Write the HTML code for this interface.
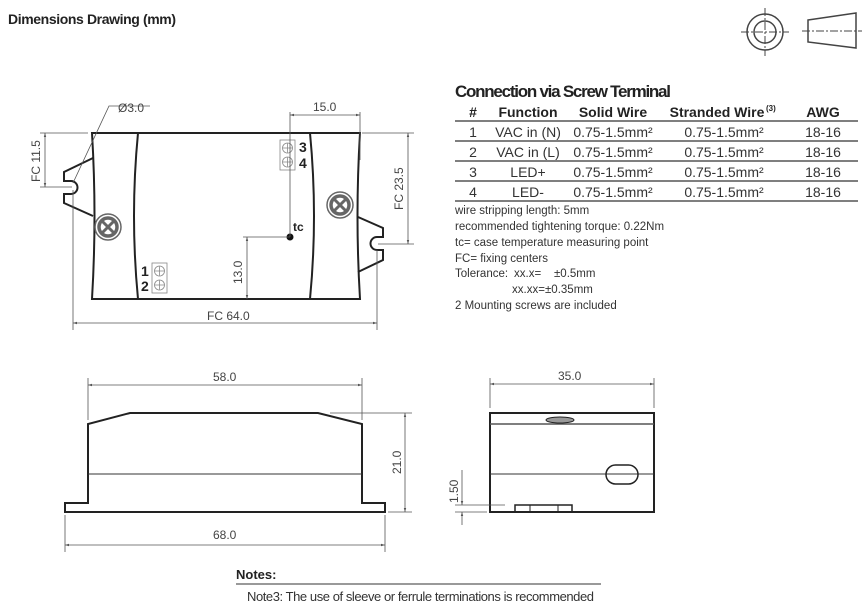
<!DOCTYPE html>
<html><head><meta charset="utf-8"><style>
html,body{margin:0;padding:0;background:#fff;}
svg{display:block;font-family:"Liberation Sans Narrow","Liberation Sans",sans-serif;}
.o{fill:none;stroke:#222;stroke-width:2}
.t{fill:none;stroke:#444;stroke-width:1}
.d{fill:none;stroke:#555;stroke-width:0.8}
.dim{font-size:12px;fill:#444}
</style></head><body>
<svg width="867" height="612" viewBox="0 0 867 612" xmlns="http://www.w3.org/2000/svg">
<defs>
<marker id="a" viewBox="0 0 10 10" refX="10" refY="5" markerWidth="5" markerHeight="5" orient="auto-start-reverse"><path d="M0,2 L10,5 L0,8z" fill="#555"/></marker>
</defs>
<text x="8" y="24" font-size="14" font-weight="bold" fill="#222" textLength="168">Dimensions Drawing (mm)</text>

<!-- icons -->
<g class="t" stroke="#222">
<circle cx="765" cy="32" r="18" stroke-width="1.5"/><circle cx="765" cy="32" r="11" stroke-width="1.5"/>
<line x1="741" y1="32" x2="789" y2="32" stroke-dasharray="8,2,2,2"/>
<line x1="765" y1="8" x2="765" y2="56" stroke-dasharray="8,2,2,2"/>
<path d="M808,20 L856,13 L856,48 L808,42 Z" stroke-width="1.5"/>
<line x1="802" y1="31" x2="862" y2="31" stroke-dasharray="8,2,2,2"/>
</g>

<!-- TOP VIEW -->
<path class="o" d="M92,133 L360,133 Q355,216 360,299 L92,299 Q97,216 92,133 Z"/>
<path class="o" d="M138,133 Q130,216 138,299"/>
<path class="o" d="M310,133 Q318,216 310,299"/>
<path class="o" d="M93,158 L64,172 L64,181 L71,181 A6,6 0 0 1 71,194 L64,194 L64,203 L93,216"/>
<path class="o" d="M358,217 L383,228 L383,237 L377,237 A6,6 0 0 0 377,250 L383,250 L383,260 L358,272"/>
<g stroke="#666" fill="none"><circle cx="108" cy="227" r="13" stroke-width="1.5"/><circle cx="108" cy="227" r="9" stroke-width="3.5"/>
<path d="M102,221 L114,233 M114,221 L102,233" stroke-width="3"/>
<circle cx="340" cy="205" r="13" stroke-width="1.5"/><circle cx="340" cy="205" r="9" stroke-width="3.5"/>
<path d="M334,199 L346,211 M346,199 L334,211" stroke-width="3"/></g>
<g stroke="#888" fill="none" stroke-width="0.8">
<rect x="280" y="140" width="15" height="30"/><circle cx="287.5" cy="148" r="5"/><circle cx="287.5" cy="162" r="5"/>
<path d="M283,148h9M287.5,143.5v9M283,162h9M287.5,157.5v9"/>
<rect x="152" y="263" width="15" height="30"/><circle cx="159.5" cy="271" r="5"/><circle cx="159.5" cy="285" r="5"/>
<path d="M155,271h9M159.5,266.5v9M155,285h9M159.5,280.5v9"/></g>
<g font-size="14" font-weight="bold" fill="#222"><text x="299" y="152">3</text><text x="299" y="168">4</text>
<text x="141" y="276">1</text><text x="141" y="291">2</text></g>
<circle cx="290" cy="237" r="3.5" fill="#111"/>
<text x="293" y="231" font-size="12" font-weight="bold" fill="#222">tc</text>
<g class="d">
<line x1="290" y1="237" x2="290" y2="112"/><line x1="360" y1="112" x2="360" y2="160"/>
<line x1="290" y1="115" x2="360" y2="115" marker-start="url(#a)" marker-end="url(#a)"/>
<line x1="243" y1="237" x2="290" y2="237"/>
<line x1="247" y1="237" x2="247" y2="299" marker-start="url(#a)" marker-end="url(#a)"/>
<line x1="40" y1="133" x2="88" y2="133"/><line x1="40" y1="187" x2="72" y2="187"/>
<line x1="45" y1="133" x2="45" y2="187" marker-start="url(#a)" marker-end="url(#a)"/>
<line x1="362" y1="133" x2="414" y2="133"/><line x1="378" y1="244" x2="414" y2="244"/>
<line x1="408" y1="133" x2="408" y2="244" marker-start="url(#a)" marker-end="url(#a)"/>
<line x1="73" y1="190" x2="73" y2="330"/><line x1="377" y1="250" x2="377" y2="330"/>
<line x1="73" y1="323" x2="377" y2="323" marker-start="url(#a)" marker-end="url(#a)"/>
<polyline points="73,183 109,106 150,106"/>
</g>
<text class="dim" x="313" y="111">15.0</text>
<text class="dim" x="118" y="112">Ø3.0</text>
<text class="dim" x="207" y="320">FC 64.0</text>
<text class="dim" transform="translate(242,284) rotate(-90)" font-size="14">13.0</text>
<text class="dim" transform="translate(40,182) rotate(-90)">FC 11.5</text>
<text class="dim" transform="translate(403,210) rotate(-90)">FC 23.5</text>

<!-- TABLE -->
<text x="455" y="97" font-size="17" font-weight="bold" fill="#222" textLength="216">Connection via Screw Terminal</text>
<g font-size="14" font-weight="bold" fill="#222" text-anchor="middle">
<text x="473" y="117">#</text><text x="528" y="117">Function</text><text x="613" y="117">Solid Wire</text><text x="717" y="117">Stranded Wire</text><text x="823" y="117">AWG</text></g>
<text x="766" y="111" font-size="8" font-weight="bold" fill="#222">(3)</text>
<g stroke="#333" stroke-width="1.2"><line x1="455" y1="121" x2="858" y2="121"/><line x1="455" y1="141" x2="858" y2="141"/><line x1="455" y1="161" x2="858" y2="161"/><line x1="455" y1="181" x2="858" y2="181"/><line x1="455" y1="201" x2="858" y2="201"/></g>
<g font-size="14" fill="#333" text-anchor="middle">
<text x="473" y="137">1</text><text x="528" y="137">VAC in (N)</text><text x="613" y="137">0.75-1.5mm²</text><text x="724" y="137">0.75-1.5mm²</text><text x="823" y="137">18-16</text>
<text x="473" y="157">2</text><text x="528" y="157">VAC in (L)</text><text x="613" y="157">0.75-1.5mm²</text><text x="724" y="157">0.75-1.5mm²</text><text x="823" y="157">18-16</text>
<text x="473" y="177">3</text><text x="528" y="177">LED+</text><text x="613" y="177">0.75-1.5mm²</text><text x="724" y="177">0.75-1.5mm²</text><text x="823" y="177">18-16</text>
<text x="473" y="197">4</text><text x="528" y="197">LED-</text><text x="613" y="197">0.75-1.5mm²</text><text x="724" y="197">0.75-1.5mm²</text><text x="823" y="197">18-16</text></g>
<g font-size="11.5" fill="#333">
<text x="455" y="214">wire stripping length: 5mm</text>
<text x="455" y="230">recommended tightening torque: 0.22Nm</text>
<text x="455" y="246">tc= case temperature measuring point</text>
<text x="455" y="262">FC= fixing centers</text>
<text x="455" y="277">Tolerance:</text><text x="514" y="277">xx.x=</text><text x="554" y="277">±0.5mm</text>
<text x="512" y="293">xx.xx=</text><text x="545" y="293">±0.35mm</text>
<text x="455" y="309">2 Mounting screws are included</text></g>

<!-- SIDE VIEW -->
<path class="o" d="M88,503 L88,424 L130,413 L318,413 L362,424 L362,503 L385,503 L385,512 L65,512 L65,503 Z"/>
<line x1="88" y1="474" x2="362" y2="474" stroke="#333" stroke-width="1"/>
<g class="d">
<line x1="88" y1="378" x2="88" y2="420"/><line x1="362" y1="378" x2="362" y2="420"/>
<line x1="88" y1="385" x2="362" y2="385" marker-start="url(#a)" marker-end="url(#a)"/>
<line x1="330" y1="413" x2="412" y2="413"/><line x1="388" y1="512" x2="412" y2="512"/>
<line x1="405" y1="413" x2="405" y2="512" marker-start="url(#a)" marker-end="url(#a)"/>
<line x1="65" y1="515" x2="65" y2="552"/><line x1="385" y1="515" x2="385" y2="552"/>
<line x1="65" y1="545" x2="385" y2="545" marker-start="url(#a)" marker-end="url(#a)"/>
</g>
<text class="dim" x="213" y="381">58.0</text>
<text class="dim" x="213" y="539">68.0</text>
<text class="dim" transform="translate(401,474) rotate(-90)">21.0</text>

<!-- FRONT VIEW -->
<rect class="o" x="490" y="413" width="164" height="99"/>
<line x1="490" y1="424" x2="654" y2="424" stroke="#555" stroke-width="1.5"/>
<line x1="490" y1="474" x2="654" y2="474" stroke="#333" stroke-width="1"/>
<ellipse cx="560" cy="420" rx="14" ry="3" fill="#999" stroke="#222" stroke-width="1"/>
<rect x="606" y="465" width="32" height="19" rx="9.5" fill="none" stroke="#222" stroke-width="1.5"/>
<rect x="515" y="505" width="57" height="7" fill="none" stroke="#222" stroke-width="1.5"/>
<line x1="530" y1="505" x2="530" y2="512" stroke="#222"/><line x1="558" y1="505" x2="558" y2="512" stroke="#222"/>
<g class="d">
<line x1="490" y1="378" x2="490" y2="408"/><line x1="654" y1="378" x2="654" y2="408"/>
<line x1="490" y1="384" x2="654" y2="384" marker-start="url(#a)" marker-end="url(#a)"/>
<line x1="455" y1="505" x2="505" y2="505"/><line x1="455" y1="512" x2="487" y2="512"/>
<line x1="462" y1="470" x2="462" y2="505" marker-end="url(#a)"/>
<line x1="462" y1="525" x2="462" y2="512" marker-end="url(#a)"/>
</g>
<text class="dim" x="558" y="380">35.0</text>
<text class="dim" transform="translate(458,503) rotate(-90)">1.50</text>

<!-- NOTES -->
<text x="236" y="579" font-size="13" font-weight="bold" fill="#222">Notes:</text>
<line x1="236" y1="584" x2="601" y2="584" stroke="#333" stroke-width="1"/>
<text x="247" y="601" font-size="13" fill="#333" textLength="347">Note3:  The use of sleeve or ferrule terminations is recommended</text>
</svg>
</body></html>
